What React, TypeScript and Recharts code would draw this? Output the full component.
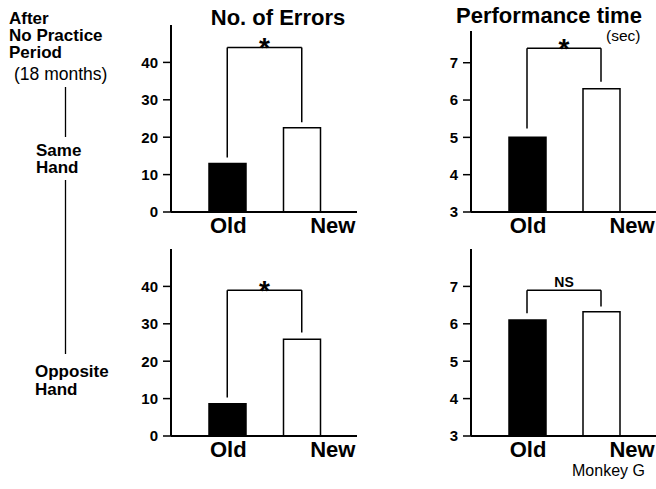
import React from 'react';
import { BarChart, Bar, XAxis, YAxis, Cell, ReferenceLine, Label } from 'recharts';

// Values
const categories = ['Old', 'New'];
const errorsSameHand = [13, 22.5];
const timeSameHand = [5.0, 6.3];
const errorsOppositeHand = [8.6, 25.9];
const timeOppositeHand = [6.1, 6.32];

const errorTicks = [0, 10, 20, 30, 40];
const timeTicks = [3, 4, 5, 6, 7];

// significance brackets: [Old leg bottom, New leg bottom, bracket top]
const errorsSameBracket = [14.6, 24, 44];
const timeSameBracket = [5.24, 6.49, 7.39];
const errorsOppositeBracket = [10.3, 27.7, 39.0];
const timeOppositeBracket = [6.28, 6.46, 6.9];
const bracketMarks = ['*', '*', '*', 'NS'];

const FONT = '"Liberation Sans", Arial, Helvetica, sans-serif';
const BAR_FILLS = ['#000000', '#ffffff'];
const TICK_SHIFT = [1, 31];

const CategoryTick = (props: any) => {
    const { x, y, payload } = props;
    const i = categories.indexOf(payload.value);
    return (
        <text x={x + (TICK_SHIFT[i] ?? 0)} y={y + 21} textAnchor="middle" fontFamily={FONT} fontWeight="bold" fontSize={22} fill="#000">
            {payload.value}
        </text>
    );
};

const markLabel = (mark: string) => (props: any) => {
    const vb = props.viewBox;
    if (!vb) return null;
    const cx = vb.x + vb.width / 2;
    if (mark === '*') {
        return <text x={cx} y={vb.y + 10} textAnchor="middle" fontFamily={FONT} fontWeight="bold" fontSize={28} fill="#000">*</text>;
    }
    return <text x={cx} y={vb.y - 3} textAnchor="middle" fontFamily={FONT} fontWeight="bold" fontSize={14} fill="#000">{mark}</text>;
};

type PanelProps = {
    values: number[];
    bracket: number[];
    mark: string;
    domain: [number, number];
    ticks: number[];
    left: number;
    top: number;
    width: number;
    marginTop: number;
    marginRight: number;
};

const Panel = ({ values, bracket, mark, domain, ticks, left, top, width, marginTop, marginRight }: PanelProps) => {
    const data = categories.map((name, i) => ({ name, value: values[i] }));
    const [oldLeg, newLeg, peak] = bracket;
    const line = { stroke: '#000', strokeWidth: 1.5 };
    return (
        <div style={{ position: 'absolute', left, top, width, height: 242 }}>
            <BarChart width={width} height={242} data={data} margin={{ top: marginTop, right: marginRight, left: 0, bottom: 0 }} barSize={37}>
                <XAxis
                    dataKey="name"
                    padding={{ left: 19, right: 18 }}
                    tickLine={false}
                    tickSize={0}
                    tickMargin={0}
                    height={30}
                    interval={0}
                    axisLine={{ stroke: '#000', strokeWidth: 2 }}
                    tick={<CategoryTick />}
                />
                <YAxis
                    width={71}
                    domain={domain}
                    ticks={ticks}
                    allowDataOverflow
                    tickSize={8}
                    tickMargin={5}
                    axisLine={{ stroke: '#000', strokeWidth: 2 }}
                    tickLine={{ stroke: '#000', strokeWidth: 1.5 }}
                    tick={{ fill: '#000', fontSize: 15, fontWeight: 'bold', fontFamily: FONT }}
                />
                <Bar dataKey="value" stroke="#000" strokeWidth={1.5} isAnimationActive={false}>
                    {data.map((d, i) => <Cell key={d.name} fill={BAR_FILLS[i]} />)}
                </Bar>
                <ReferenceLine segment={[{ x: 'Old', y: oldLeg }, { x: 'Old', y: peak }]} {...line} />
                <ReferenceLine segment={[{ x: 'Old', y: peak }, { x: 'New', y: peak }]} {...line}>
                    <Label content={markLabel(mark)} />
                </ReferenceLine>
                <ReferenceLine segment={[{ x: 'New', y: peak }, { x: 'New', y: newLeg }]} {...line} />
            </BarChart>
        </div>
    );
};

export default function App() {
    const bold = { fontFamily: FONT, fontWeight: 'bold' as const, fill: '#000' };
    const plain = { fontFamily: FONT, fill: '#000' };
    return (
        <div style={{ position: 'absolute', left: 0, top: 0, width: 656, height: 489, background: '#fff', overflow: 'hidden' }}>
            <svg width={656} height={489} style={{ position: 'absolute', left: 0, top: 0 }}>
                <text x={9} y={24} fontSize={17} {...bold}>After</text>
                <text x={9} y={41} fontSize={17} {...bold}>No Practice</text>
                <text x={9} y={58} fontSize={17} {...bold}>Period</text>
                <text x={14} y={80} fontSize={17.5} {...plain}>(18 months)</text>
                <line x1={65.5} y1={87} x2={65.5} y2={137} stroke="#000" strokeWidth={1.3} />
                <text x={36} y={156} fontSize={17} {...bold}>Same</text>
                <text x={36} y={173} fontSize={17} {...bold}>Hand</text>
                <line x1={65.5} y1={180} x2={65.5} y2={354} stroke="#000" strokeWidth={1.3} />
                <text x={35} y={377} fontSize={17} {...bold}>Opposite</text>
                <text x={35} y={395} fontSize={17} {...bold}>Hand</text>

                <text x={278} y={25} fontSize={22} textAnchor="middle" {...bold}>No. of Errors</text>
                <text x={549} y={23} fontSize={22} textAnchor="middle" {...bold}>Performance time</text>
                <text x={606} y={41} fontSize={15.5} {...plain}>(sec)</text>
                <text x={572} y={476} fontSize={16} {...plain}>Monkey G</text>
            </svg>
            <Panel values={errorsSameHand} bracket={errorsSameBracket} mark={bracketMarks[0]} domain={[0, 50]} ticks={errorTicks}
                left={100} top={0} width={260} marginTop={25} marginRight={3} />
            <Panel values={timeSameHand} bracket={timeSameBracket} mark={bracketMarks[1]} domain={[3, 7.85]} ticks={timeTicks}
                left={400} top={0} width={256} marginTop={31} marginRight={0} />
            <Panel values={errorsOppositeHand} bracket={errorsOppositeBracket} mark={bracketMarks[2]} domain={[0, 50]} ticks={errorTicks}
                left={100} top={224} width={260} marginTop={25} marginRight={3} />
            <Panel values={timeOppositeHand} bracket={timeOppositeBracket} mark={bracketMarks[3]} domain={[3, 8]} ticks={timeTicks}
                left={400} top={224} width={256} marginTop={25} marginRight={0} />
        </div>
    );
}
